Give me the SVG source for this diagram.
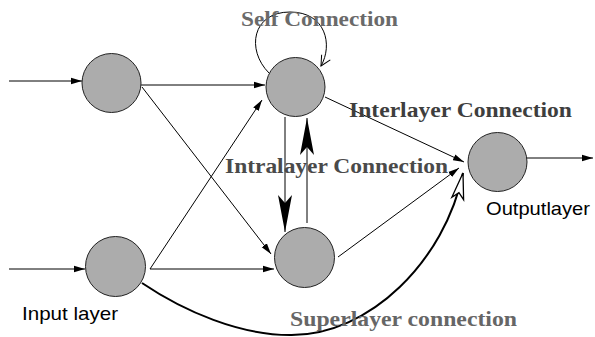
<svg xmlns="http://www.w3.org/2000/svg" width="595" height="337" viewBox="0 0 595 337">
  <defs>
    <marker id="arr" markerWidth="12" markerHeight="8" refX="11" refY="4" orient="auto" markerUnits="userSpaceOnUse">
      <path d="M0,0.8 L11,4 L0,7.2 Z" fill="#000"/>
    </marker>
    <marker id="big" markerWidth="38" markerHeight="16" refX="37" refY="8" orient="auto" markerUnits="userSpaceOnUse">
      <path d="M0,1 L37,8 L0,15 L8,8 Z" fill="#000"/>
    </marker>
    <marker id="open" markerWidth="12" markerHeight="12" refX="11" refY="6" orient="auto" markerUnits="userSpaceOnUse">
      <path d="M1,1 L11,6 L1,11" fill="none" stroke="#000" stroke-width="1"/>
    </marker>
    <marker id="openbig" markerWidth="30" markerHeight="18" refX="28" refY="9" orient="auto" markerUnits="userSpaceOnUse">
      <path d="M2,3 L28,9 L2,15 L8,9 Z" fill="#fff" stroke="#000" stroke-width="1.3"/>
    </marker>
  </defs>
  <style>
    .node { fill: #acacac; stroke: #222; stroke-width: 1; }
    .link { fill: none; stroke: #000; stroke-width: 1; }
    .thick { fill: none; stroke: #000; stroke-width: 2; }
    .lbl { font-family: "Liberation Serif", "Times New Roman", serif; font-weight: bold; font-size: 22px; }
    .cap { font-family: "Liberation Sans", Arial, sans-serif; font-size: 19px; fill: #000; }
  </style>
  <rect width="595" height="337" fill="#fff"/>

  <g id="connectors">
    <!-- external inputs -->
    <line class="link" x1="9" y1="81" x2="82" y2="81" marker-end="url(#arr)"/>
    <line class="link" x1="9" y1="269" x2="85" y2="269" marker-end="url(#arr)"/>
    <!-- input layer to hidden layer -->
    <line class="link" x1="141" y1="85" x2="265" y2="85" marker-end="url(#arr)"/>
    <line class="link" x1="142" y1="87" x2="271" y2="254" marker-end="url(#arr)"/>
    <line class="link" x1="150" y1="269" x2="262" y2="100" marker-end="url(#arr)"/>
    <line class="link" x1="150" y1="269" x2="274" y2="269" marker-end="url(#arr)"/>
    <!-- hidden layer to output -->
    <line class="link" x1="325" y1="97" x2="464" y2="162" marker-end="url(#arr)"/>
    <line class="link" x1="338" y1="257" x2="459" y2="168" marker-end="url(#arr)"/>
    <!-- output -->
    <line class="link" x1="522" y1="158" x2="593" y2="158" marker-end="url(#arr)"/>
    <!-- intralayer -->
    <line class="link" x1="285" y1="117" x2="285" y2="232" marker-end="url(#big)"/>
    <line class="link" x1="307" y1="223" x2="307" y2="118" marker-end="url(#big)"/>
    <!-- self loop -->
    <path class="link" d="M269,73 C246,50 252,12 290,12 C326,12 333,45 321,66" marker-end="url(#open)"/>
    <!-- superlayer -->
    <path class="thick" d="M142,283 C185,312 240,335 290,335 C370,336 445,260 463,173" marker-end="url(#openbig)"/>
  </g>

  <g id="n-in1"><circle class="node" cx="111.5" cy="83" r="29.5"/></g>
  <g id="n-in2"><circle class="node" cx="115.5" cy="266.5" r="30"/></g>
  <g id="n-h1"><circle class="node" cx="295.5" cy="87" r="29.5"/></g>
  <g id="n-h2"><circle class="node" cx="304.5" cy="257.5" r="30"/></g>
  <g id="n-out"><circle class="node" cx="497.5" cy="162" r="29.5"/></g>

  <g id="labels">
    <text class="lbl" x="241" y="26" fill="#6a6a6a" textLength="157" lengthAdjust="spacingAndGlyphs">Self Connection</text>
    <text class="lbl" x="349" y="117" fill="#3e3e3e" textLength="223" lengthAdjust="spacingAndGlyphs">Interlayer Connection</text>
    <text class="lbl" x="225" y="173" fill="#4a4a4a" textLength="223" lengthAdjust="spacingAndGlyphs">Intralayer Connection</text>
    <text class="lbl" x="290" y="326" fill="#666" textLength="227" lengthAdjust="spacingAndGlyphs">Superlayer connection</text>
    <text class="cap" x="22" y="320" textLength="96" lengthAdjust="spacingAndGlyphs">Input layer</text>
    <text class="cap" x="486" y="215" textLength="104" lengthAdjust="spacingAndGlyphs">Outputlayer</text>
  </g>
</svg>
